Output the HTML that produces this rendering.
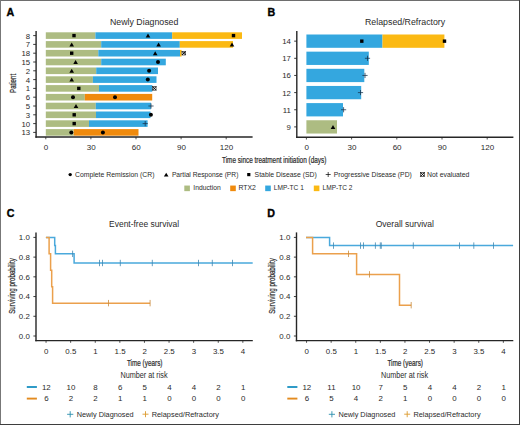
<!DOCTYPE html>
<html><head><meta charset="utf-8"><style>
html,body{margin:0;padding:0;background:#fff;width:520px;height:425px;overflow:hidden}
svg{display:block;font-family:"Liberation Sans", sans-serif}
</style></head><body>
<svg width="520" height="425" viewBox="0 0 520 425" font-family='"Liberation Sans", sans-serif'>
<rect width="520" height="425" fill="#fff"/>
<rect x="0" y="0" width="520" height="1" fill="#6e6e6e"/>
<rect x="0" y="0" width="1" height="425" fill="#777"/>
<rect x="519" y="0" width="1" height="425" fill="#3e3e3e"/>
<rect x="0" y="424" width="520" height="1" fill="#3e3e3e"/>
<text x="6.6" y="15.9" font-size="10.7" text-anchor="start" font-weight="bold" fill="#000" stroke="#000" stroke-width="0.35">A</text>
<text x="110" y="25.0" font-size="9.2" text-anchor="start" font-weight="normal" fill="#2a2a2a"  textLength="68.4" lengthAdjust="spacingAndGlyphs">Newly Diagnosed</text>
<rect x="45.80" y="32.30" width="49.60" height="6.60" fill="#adbc82"/>
<rect x="95.40" y="32.30" width="76.80" height="6.60" fill="#34a7df"/>
<rect x="172.20" y="32.30" width="69.80" height="6.60" fill="#fbb913"/>
<rect x="72.30" y="33.90" width="3.4" height="3.4" fill="#000"/>
<path d="M145.70 37.60 L148.00 33.60 L150.30 37.60Z" fill="#000"/>
<rect x="231.80" y="33.90" width="3.4" height="3.4" fill="#000"/>
<line x1="33.2" y1="35.599999999999994" x2="36" y2="35.599999999999994" stroke="#262626" stroke-width="0.9"/>
<text x="30.2" y="38.49999999999999" font-size="7.8" text-anchor="end" font-weight="normal" fill="#2a2a2a" >8</text>
<rect x="45.80" y="41.10" width="55.40" height="6.60" fill="#adbc82"/>
<rect x="101.20" y="41.10" width="78.60" height="6.60" fill="#34a7df"/>
<rect x="179.80" y="41.10" width="53.20" height="6.60" fill="#fbb913"/>
<path d="M69.40 46.40 L71.70 42.40 L74.00 46.40Z" fill="#000"/>
<path d="M156.30 46.40 L158.60 42.40 L160.90 46.40Z" fill="#000"/>
<path d="M229.70 46.40 L232.00 42.40 L234.30 46.40Z" fill="#000"/>
<line x1="33.2" y1="44.39999999999999" x2="36" y2="44.39999999999999" stroke="#262626" stroke-width="0.9"/>
<text x="30.2" y="47.29999999999999" font-size="7.8" text-anchor="end" font-weight="normal" fill="#2a2a2a" >7</text>
<rect x="45.80" y="49.90" width="52.50" height="6.60" fill="#adbc82"/>
<rect x="98.30" y="49.90" width="81.70" height="6.60" fill="#34a7df"/>
<rect x="180.00" y="49.90" width="1.60" height="6.60" fill="#fbb913"/>
<rect x="70.00" y="51.50" width="3.4" height="3.4" fill="#000"/>
<path d="M152.90 55.20 L155.20 51.20 L157.50 55.20Z" fill="#000"/>
<rect x="182.00" y="51.40" width="3.6" height="3.6" fill="none" stroke="#333" stroke-width="0.7"/>
<path d="M182.00 51.40L185.60 55.00M185.60 51.40L182.00 55.00" stroke="#111" stroke-width="1.0"/>
<line x1="33.2" y1="53.199999999999996" x2="36" y2="53.199999999999996" stroke="#262626" stroke-width="0.9"/>
<text x="30.2" y="56.099999999999994" font-size="7.8" text-anchor="end" font-weight="normal" fill="#2a2a2a" >18</text>
<rect x="45.80" y="58.70" width="55.40" height="6.60" fill="#adbc82"/>
<rect x="101.20" y="58.70" width="64.60" height="6.60" fill="#34a7df"/>
<path d="M73.30 64.00 L75.60 60.00 L77.90 64.00Z" fill="#000"/>
<circle cx="158" cy="62.0" r="2.0" fill="#000"/>
<line x1="33.2" y1="62.0" x2="36" y2="62.0" stroke="#262626" stroke-width="0.9"/>
<text x="30.2" y="64.9" font-size="7.8" text-anchor="end" font-weight="normal" fill="#2a2a2a" >15</text>
<rect x="45.80" y="67.50" width="50.40" height="6.60" fill="#adbc82"/>
<rect x="96.20" y="67.50" width="61.80" height="6.60" fill="#34a7df"/>
<path d="M69.40 72.80 L71.70 68.80 L74.00 72.80Z" fill="#000"/>
<circle cx="149.1" cy="70.8" r="2.0" fill="#000"/>
<line x1="33.2" y1="70.8" x2="36" y2="70.8" stroke="#262626" stroke-width="0.9"/>
<text x="30.2" y="73.7" font-size="7.8" text-anchor="end" font-weight="normal" fill="#2a2a2a" >2</text>
<rect x="45.80" y="76.30" width="47.10" height="6.60" fill="#adbc82"/>
<rect x="92.90" y="76.30" width="63.60" height="6.60" fill="#34a7df"/>
<path d="M69.40 81.60 L71.70 77.60 L74.00 81.60Z" fill="#000"/>
<circle cx="147.8" cy="79.6" r="2.0" fill="#000"/>
<line x1="33.2" y1="79.6" x2="36" y2="79.6" stroke="#262626" stroke-width="0.9"/>
<text x="30.2" y="82.5" font-size="7.8" text-anchor="end" font-weight="normal" fill="#2a2a2a" >4</text>
<rect x="45.80" y="85.10" width="53.20" height="6.60" fill="#adbc82"/>
<rect x="99.00" y="85.10" width="53.30" height="6.60" fill="#34a7df"/>
<rect x="77.10" y="86.70" width="3.4" height="3.4" fill="#000"/>
<rect x="152.50" y="86.60" width="3.6" height="3.6" fill="none" stroke="#333" stroke-width="0.7"/>
<path d="M152.50 86.60L156.10 90.20M156.10 86.60L152.50 90.20" stroke="#111" stroke-width="1.0"/>
<line x1="33.2" y1="88.39999999999999" x2="36" y2="88.39999999999999" stroke="#262626" stroke-width="0.9"/>
<text x="30.2" y="91.3" font-size="7.8" text-anchor="end" font-weight="normal" fill="#2a2a2a" >1</text>
<rect x="45.80" y="93.90" width="39.00" height="6.60" fill="#adbc82"/>
<rect x="84.80" y="93.90" width="67.40" height="6.60" fill="#f08a0c"/>
<circle cx="73" cy="97.2" r="2.0" fill="#000"/>
<circle cx="115" cy="97.2" r="2.0" fill="#000"/>
<line x1="33.2" y1="97.2" x2="36" y2="97.2" stroke="#262626" stroke-width="0.9"/>
<text x="30.2" y="100.10000000000001" font-size="7.8" text-anchor="end" font-weight="normal" fill="#2a2a2a" >6</text>
<rect x="45.80" y="102.70" width="50.00" height="6.60" fill="#adbc82"/>
<rect x="95.80" y="102.70" width="55.10" height="6.60" fill="#34a7df"/>
<path d="M73.70 108.00 L76.00 104.00 L78.30 108.00Z" fill="#000"/>
<path d="M148.40 106.00H153.60M151.00 103.40V108.60" stroke="#15304a" stroke-width="0.75" fill="none"/>
<line x1="33.2" y1="106.0" x2="36" y2="106.0" stroke="#262626" stroke-width="0.9"/>
<text x="30.2" y="108.9" font-size="7.8" text-anchor="end" font-weight="normal" fill="#2a2a2a" >5</text>
<rect x="45.80" y="111.50" width="50.20" height="6.60" fill="#adbc82"/>
<rect x="96.00" y="111.50" width="54.50" height="6.60" fill="#34a7df"/>
<rect x="72.50" y="113.10" width="3.4" height="3.4" fill="#000"/>
<circle cx="150.9" cy="114.8" r="2.0" fill="#000"/>
<line x1="33.2" y1="114.8" x2="36" y2="114.8" stroke="#262626" stroke-width="0.9"/>
<text x="30.2" y="117.7" font-size="7.8" text-anchor="end" font-weight="normal" fill="#2a2a2a" >3</text>
<rect x="45.80" y="120.30" width="43.20" height="6.60" fill="#adbc82"/>
<rect x="89.00" y="120.30" width="58.60" height="6.60" fill="#34a7df"/>
<rect x="72.50" y="121.90" width="3.4" height="3.4" fill="#000"/>
<path d="M142.60 123.60H147.80M145.20 121.00V126.20" stroke="#15304a" stroke-width="0.75" fill="none"/>
<line x1="33.2" y1="123.6" x2="36" y2="123.6" stroke="#262626" stroke-width="0.9"/>
<text x="30.2" y="126.5" font-size="7.8" text-anchor="end" font-weight="normal" fill="#2a2a2a" >10</text>
<rect x="45.80" y="129.10" width="27.90" height="6.60" fill="#adbc82"/>
<rect x="73.70" y="129.10" width="64.80" height="6.60" fill="#f08a0c"/>
<circle cx="71.3" cy="132.40000000000003" r="2.0" fill="#000"/>
<circle cx="102.9" cy="132.40000000000003" r="2.0" fill="#000"/>
<line x1="33.2" y1="132.40000000000003" x2="36" y2="132.40000000000003" stroke="#262626" stroke-width="0.9"/>
<text x="30.2" y="135.30000000000004" font-size="7.8" text-anchor="end" font-weight="normal" fill="#2a2a2a" >13</text>
<line x1="36.1" y1="31" x2="36.1" y2="137.7" stroke="#262626" stroke-width="1.4"/>
<line x1="35.4" y1="137" x2="252.6" y2="137" stroke="#262626" stroke-width="1.4"/>
<line x1="45.8" y1="137" x2="45.8" y2="139.3" stroke="#262626" stroke-width="0.8"/>
<text x="46.099999999999994" y="150.0" font-size="8" text-anchor="middle" font-weight="normal" fill="#2a2a2a" >0</text>
<line x1="90.9" y1="137" x2="90.9" y2="139.3" stroke="#262626" stroke-width="0.8"/>
<text x="91.2" y="150.0" font-size="8" text-anchor="middle" font-weight="normal" fill="#2a2a2a" >30</text>
<line x1="136.0" y1="137" x2="136.0" y2="139.3" stroke="#262626" stroke-width="0.8"/>
<text x="136.3" y="150.0" font-size="8" text-anchor="middle" font-weight="normal" fill="#2a2a2a" >60</text>
<line x1="181.10000000000002" y1="137" x2="181.10000000000002" y2="139.3" stroke="#262626" stroke-width="0.8"/>
<text x="181.40000000000003" y="150.0" font-size="8" text-anchor="middle" font-weight="normal" fill="#2a2a2a" >90</text>
<line x1="226.2" y1="137" x2="226.2" y2="139.3" stroke="#262626" stroke-width="0.8"/>
<text x="226.5" y="150.0" font-size="8" text-anchor="middle" font-weight="normal" fill="#2a2a2a" >120</text>
<text x="222.0" y="162.7" font-size="9" fill="#2a2a2a" stroke="#2a2a2a" stroke-width="0.22" textLength="104.3" lengthAdjust="spacingAndGlyphs">Time since treatment initiation (days)</text>
<text transform="translate(16.0,83.4) rotate(-90)" x="0" y="0" font-size="9" text-anchor="middle" fill="#2a2a2a" stroke="#2a2a2a" stroke-width="0.22" textLength="19" lengthAdjust="spacingAndGlyphs">Patient</text>
<circle cx="70.2" cy="174.6" r="1.7" fill="#000"/>
<text x="75" y="176.7" font-size="7.5" text-anchor="start" font-weight="normal" fill="#2a2a2a"  textLength="79.5" lengthAdjust="spacingAndGlyphs">Complete Remission (CR)</text>
<path d="M163.90 176.55 L166.20 172.65 L168.50 176.55Z" fill="#000"/>
<text x="171.9" y="176.7" font-size="7.5" text-anchor="start" font-weight="normal" fill="#2a2a2a"  textLength="66.5" lengthAdjust="spacingAndGlyphs">Partial Response (PR)</text>
<rect x="247.20" y="173.00" width="3.2" height="3.2" fill="#000"/>
<text x="254.6" y="176.7" font-size="7.5" text-anchor="start" font-weight="normal" fill="#2a2a2a"  textLength="62.2" lengthAdjust="spacingAndGlyphs">Stable Disease (SD)</text>
<path d="M325.70 174.50H330.70M328.20 172.00V177.00" stroke="#000" stroke-width="0.7" fill="none"/>
<text x="333.8" y="176.7" font-size="7.5" text-anchor="start" font-weight="normal" fill="#2a2a2a"  textLength="78" lengthAdjust="spacingAndGlyphs">Progressive Disease (PD)</text>
<rect x="420.50" y="172.40" width="4.0" height="4.0" fill="none" stroke="#333" stroke-width="0.7"/>
<path d="M420.50 172.40L424.50 176.40M424.50 172.40L420.50 176.40" stroke="#111" stroke-width="1.0"/>
<text x="427.1" y="176.7" font-size="7.5" text-anchor="start" font-weight="normal" fill="#2a2a2a"  textLength="42.3" lengthAdjust="spacingAndGlyphs">Not evaluated</text>
<rect x="184.30" y="185.55" width="5.60" height="5.60" fill="#adbc82"/>
<text x="193.3" y="190.3" font-size="7.5" text-anchor="start" font-weight="normal" fill="#2a2a2a"  textLength="27.4" lengthAdjust="spacingAndGlyphs">Induction</text>
<rect x="230.20" y="185.55" width="5.60" height="5.60" fill="#f08a0c"/>
<text x="238.4" y="190.3" font-size="7.5" text-anchor="start" font-weight="normal" fill="#2a2a2a"  textLength="17.4" lengthAdjust="spacingAndGlyphs">RTX2</text>
<rect x="265.20" y="185.55" width="5.60" height="5.60" fill="#34a7df"/>
<text x="273.8" y="190.3" font-size="7.5" text-anchor="start" font-weight="normal" fill="#2a2a2a"  textLength="30" lengthAdjust="spacingAndGlyphs">LMP-TC 1</text>
<rect x="313.80" y="185.55" width="5.60" height="5.60" fill="#fbb913"/>
<text x="322.5" y="190.3" font-size="7.5" text-anchor="start" font-weight="normal" fill="#2a2a2a"  textLength="30" lengthAdjust="spacingAndGlyphs">LMP-TC 2</text>
<text x="267.4" y="15.9" font-size="10.7" text-anchor="start" font-weight="bold" fill="#000" stroke="#000" stroke-width="0.35">B</text>
<text x="365" y="25.0" font-size="9.2" text-anchor="start" font-weight="normal" fill="#2a2a2a"  textLength="80.2" lengthAdjust="spacingAndGlyphs">Relapsed/Refractory</text>
<rect x="306.40" y="34.50" width="76.10" height="13.30" fill="#34a7df"/>
<rect x="382.50" y="34.50" width="61.90" height="13.30" fill="#fbb913"/>
<rect x="360.10" y="39.45" width="3.4" height="3.4" fill="#000"/>
<rect x="442.80" y="39.45" width="3.4" height="3.4" fill="#000"/>
<line x1="294.2" y1="41.15" x2="297" y2="41.15" stroke="#262626" stroke-width="0.9"/>
<text x="290.9" y="44.05" font-size="7.8" text-anchor="end" font-weight="normal" fill="#2a2a2a" >14</text>
<rect x="306.40" y="51.65" width="62.40" height="13.30" fill="#34a7df"/>
<path d="M364.90 58.30H370.10M367.50 55.70V60.90" stroke="#15304a" stroke-width="0.75" fill="none"/>
<line x1="294.2" y1="58.3" x2="297" y2="58.3" stroke="#262626" stroke-width="0.9"/>
<text x="290.9" y="61.199999999999996" font-size="7.8" text-anchor="end" font-weight="normal" fill="#2a2a2a" >17</text>
<rect x="306.40" y="68.80" width="57.90" height="13.30" fill="#34a7df"/>
<path d="M362.40 75.45H367.60M365.00 72.85V78.05" stroke="#15304a" stroke-width="0.75" fill="none"/>
<line x1="294.2" y1="75.45" x2="297" y2="75.45" stroke="#262626" stroke-width="0.9"/>
<text x="290.9" y="78.35000000000001" font-size="7.8" text-anchor="end" font-weight="normal" fill="#2a2a2a" >16</text>
<rect x="306.40" y="85.95" width="54.80" height="13.30" fill="#34a7df"/>
<path d="M357.90 92.60H363.10M360.50 90.00V95.20" stroke="#15304a" stroke-width="0.75" fill="none"/>
<line x1="294.2" y1="92.6" x2="297" y2="92.6" stroke="#262626" stroke-width="0.9"/>
<text x="290.9" y="95.5" font-size="7.8" text-anchor="end" font-weight="normal" fill="#2a2a2a" >12</text>
<rect x="306.40" y="103.10" width="36.60" height="13.30" fill="#34a7df"/>
<path d="M341.00 109.75H346.20M343.60 107.15V112.35" stroke="#15304a" stroke-width="0.75" fill="none"/>
<line x1="294.2" y1="109.75" x2="297" y2="109.75" stroke="#262626" stroke-width="0.9"/>
<text x="290.9" y="112.65" font-size="7.8" text-anchor="end" font-weight="normal" fill="#2a2a2a" >11</text>
<rect x="306.40" y="120.25" width="30.60" height="13.30" fill="#adbc82"/>
<path d="M330.70 128.90 L333.00 124.90 L335.30 128.90Z" fill="#000"/>
<line x1="294.2" y1="126.9" x2="297" y2="126.9" stroke="#262626" stroke-width="0.9"/>
<text x="290.9" y="129.8" font-size="7.8" text-anchor="end" font-weight="normal" fill="#2a2a2a" >9</text>
<line x1="296.8" y1="31" x2="296.8" y2="137.9" stroke="#262626" stroke-width="1.4"/>
<line x1="296.1" y1="137.2" x2="513.4" y2="137.2" stroke="#262626" stroke-width="1.4"/>
<line x1="306.4" y1="137.2" x2="306.4" y2="139.5" stroke="#262626" stroke-width="0.8"/>
<text x="306.7" y="150.0" font-size="8" text-anchor="middle" font-weight="normal" fill="#2a2a2a" >0</text>
<line x1="351.59999999999997" y1="137.2" x2="351.59999999999997" y2="139.5" stroke="#262626" stroke-width="0.8"/>
<text x="351.9" y="150.0" font-size="8" text-anchor="middle" font-weight="normal" fill="#2a2a2a" >30</text>
<line x1="396.79999999999995" y1="137.2" x2="396.79999999999995" y2="139.5" stroke="#262626" stroke-width="0.8"/>
<text x="397.09999999999997" y="150.0" font-size="8" text-anchor="middle" font-weight="normal" fill="#2a2a2a" >60</text>
<line x1="442.0" y1="137.2" x2="442.0" y2="139.5" stroke="#262626" stroke-width="0.8"/>
<text x="442.3" y="150.0" font-size="8" text-anchor="middle" font-weight="normal" fill="#2a2a2a" >90</text>
<line x1="487.2" y1="137.2" x2="487.2" y2="139.5" stroke="#262626" stroke-width="0.8"/>
<text x="487.5" y="150.0" font-size="8" text-anchor="middle" font-weight="normal" fill="#2a2a2a" >120</text>
<text x="6.800000000000001" y="216.5" font-size="10.7" text-anchor="start" font-weight="bold" fill="#000" stroke="#000" stroke-width="0.35">C</text>
<text x="109.1" y="226.6" font-size="9.2" text-anchor="start" font-weight="normal" fill="#2a2a2a"  textLength="70" lengthAdjust="spacingAndGlyphs">Event-free survival</text>
<line x1="36" y1="232.4" x2="36" y2="341.3" stroke="#262626" stroke-width="1.4"/>
<line x1="35.3" y1="340.6" x2="252.8" y2="340.6" stroke="#262626" stroke-width="1.4"/>
<line x1="33.4" y1="336.0" x2="36" y2="336.0" stroke="#262626" stroke-width="0.9"/>
<text x="29.8" y="338.9" font-size="7.9" text-anchor="end" font-weight="normal" fill="#2a2a2a" >0.0</text>
<line x1="33.4" y1="316.28" x2="36" y2="316.28" stroke="#262626" stroke-width="0.9"/>
<text x="29.8" y="319.17999999999995" font-size="7.9" text-anchor="end" font-weight="normal" fill="#2a2a2a" >0.2</text>
<line x1="33.4" y1="296.56" x2="36" y2="296.56" stroke="#262626" stroke-width="0.9"/>
<text x="29.8" y="299.46" font-size="7.9" text-anchor="end" font-weight="normal" fill="#2a2a2a" >0.4</text>
<line x1="33.4" y1="276.84000000000003" x2="36" y2="276.84000000000003" stroke="#262626" stroke-width="0.9"/>
<text x="29.8" y="279.74" font-size="7.9" text-anchor="end" font-weight="normal" fill="#2a2a2a" >0.6</text>
<line x1="33.4" y1="257.12" x2="36" y2="257.12" stroke="#262626" stroke-width="0.9"/>
<text x="29.8" y="260.02" font-size="7.9" text-anchor="end" font-weight="normal" fill="#2a2a2a" >0.8</text>
<line x1="33.4" y1="237.4" x2="36" y2="237.4" stroke="#262626" stroke-width="0.9"/>
<text x="29.8" y="240.3" font-size="7.9" text-anchor="end" font-weight="normal" fill="#2a2a2a" >1.0</text>
<line x1="46.05" y1="340.6" x2="46.05" y2="342.8" stroke="#262626" stroke-width="0.8"/>
<text x="46.25" y="353.7" font-size="7.9" text-anchor="middle" font-weight="normal" fill="#2a2a2a" >0</text>
<line x1="70.65" y1="340.6" x2="70.65" y2="342.8" stroke="#262626" stroke-width="0.8"/>
<text x="70.85000000000001" y="353.7" font-size="7.9" text-anchor="middle" font-weight="normal" fill="#2a2a2a" >0.5</text>
<line x1="95.25" y1="340.6" x2="95.25" y2="342.8" stroke="#262626" stroke-width="0.8"/>
<text x="95.45" y="353.7" font-size="7.9" text-anchor="middle" font-weight="normal" fill="#2a2a2a" >1</text>
<line x1="119.85000000000001" y1="340.6" x2="119.85000000000001" y2="342.8" stroke="#262626" stroke-width="0.8"/>
<text x="120.05000000000001" y="353.7" font-size="7.9" text-anchor="middle" font-weight="normal" fill="#2a2a2a" >1.5</text>
<line x1="144.45" y1="340.6" x2="144.45" y2="342.8" stroke="#262626" stroke-width="0.8"/>
<text x="144.64999999999998" y="353.7" font-size="7.9" text-anchor="middle" font-weight="normal" fill="#2a2a2a" >2</text>
<line x1="169.05" y1="340.6" x2="169.05" y2="342.8" stroke="#262626" stroke-width="0.8"/>
<text x="169.25" y="353.7" font-size="7.9" text-anchor="middle" font-weight="normal" fill="#2a2a2a" >2.5</text>
<line x1="193.65000000000003" y1="340.6" x2="193.65000000000003" y2="342.8" stroke="#262626" stroke-width="0.8"/>
<text x="193.85000000000002" y="353.7" font-size="7.9" text-anchor="middle" font-weight="normal" fill="#2a2a2a" >3</text>
<line x1="218.25" y1="340.6" x2="218.25" y2="342.8" stroke="#262626" stroke-width="0.8"/>
<text x="218.45" y="353.7" font-size="7.9" text-anchor="middle" font-weight="normal" fill="#2a2a2a" >3.5</text>
<line x1="242.85000000000002" y1="340.6" x2="242.85000000000002" y2="342.8" stroke="#262626" stroke-width="0.8"/>
<text x="243.05" y="353.7" font-size="7.9" text-anchor="middle" font-weight="normal" fill="#2a2a2a" >4</text>
<text x="144.7" y="366.0" font-size="9" text-anchor="middle" fill="#2a2a2a" stroke="#2a2a2a" stroke-width="0.22" textLength="35.6" lengthAdjust="spacingAndGlyphs">Time (years)</text>
<text transform="translate(14.600000000000001,286.0) rotate(-90)" x="0" y="0" font-size="9" text-anchor="middle" fill="#2a2a2a" stroke="#2a2a2a" stroke-width="0.22" textLength="55.6" lengthAdjust="spacingAndGlyphs">Surviving probability</text>
<text x="120.4" y="377.7" font-size="8.2" text-anchor="start" font-weight="normal" fill="#2a2a2a"  textLength="47.2" lengthAdjust="spacingAndGlyphs">Number at risk</text>
<path d="M45.9 237.40H54.7V245.62H55.4V253.83H74.1V263.0H252.7" fill="none" stroke="#4aa9dc" stroke-width="1.5"/>
<path d="M45.9 237.40H49.1V253.83H50.6V270.27H51.7V286.70H52.6V303.13H150.1" fill="none" stroke="#eba04c" stroke-width="1.5"/>
<line x1="108.5" y1="299.93333333333334" x2="108.5" y2="306.3333333333333" stroke="#c88a3c" stroke-width="0.8"/>
<line x1="150.1" y1="299.93333333333334" x2="150.1" y2="306.3333333333333" stroke="#c88a3c" stroke-width="0.8"/>
<line x1="72.6" y1="250.63333333333333" x2="72.6" y2="257.0333333333333" stroke="#3f86b0" stroke-width="0.8"/>
<line x1="99.5" y1="259.8" x2="99.5" y2="266.2" stroke="#3f86b0" stroke-width="0.8"/>
<line x1="102.5" y1="259.8" x2="102.5" y2="266.2" stroke="#3f86b0" stroke-width="0.8"/>
<line x1="120.3" y1="259.8" x2="120.3" y2="266.2" stroke="#3f86b0" stroke-width="0.8"/>
<line x1="152.3" y1="259.8" x2="152.3" y2="266.2" stroke="#3f86b0" stroke-width="0.8"/>
<line x1="198.5" y1="259.8" x2="198.5" y2="266.2" stroke="#3f86b0" stroke-width="0.8"/>
<line x1="212.3" y1="259.8" x2="212.3" y2="266.2" stroke="#3f86b0" stroke-width="0.8"/>
<line x1="232.5" y1="259.8" x2="232.5" y2="266.2" stroke="#3f86b0" stroke-width="0.8"/>
<line x1="26.8" y1="387.0" x2="36.9" y2="387.0" stroke="#2496c4" stroke-width="1.9"/>
<line x1="26.8" y1="398.6" x2="36.9" y2="398.6" stroke="#e38b1f" stroke-width="1.9"/>
<text x="46.349999999999994" y="389.7" font-size="7.9" text-anchor="middle" font-weight="normal" fill="#2a2a2a" >12</text>
<text x="46.349999999999994" y="401.0" font-size="7.9" text-anchor="middle" font-weight="normal" fill="#2a2a2a" >6</text>
<text x="70.95" y="389.7" font-size="7.9" text-anchor="middle" font-weight="normal" fill="#2a2a2a" >10</text>
<text x="70.95" y="401.0" font-size="7.9" text-anchor="middle" font-weight="normal" fill="#2a2a2a" >2</text>
<text x="95.55" y="389.7" font-size="7.9" text-anchor="middle" font-weight="normal" fill="#2a2a2a" >8</text>
<text x="95.55" y="401.0" font-size="7.9" text-anchor="middle" font-weight="normal" fill="#2a2a2a" >2</text>
<text x="120.15" y="389.7" font-size="7.9" text-anchor="middle" font-weight="normal" fill="#2a2a2a" >6</text>
<text x="120.15" y="401.0" font-size="7.9" text-anchor="middle" font-weight="normal" fill="#2a2a2a" >1</text>
<text x="144.75" y="389.7" font-size="7.9" text-anchor="middle" font-weight="normal" fill="#2a2a2a" >5</text>
<text x="144.75" y="401.0" font-size="7.9" text-anchor="middle" font-weight="normal" fill="#2a2a2a" >1</text>
<text x="169.35000000000002" y="389.7" font-size="7.9" text-anchor="middle" font-weight="normal" fill="#2a2a2a" >4</text>
<text x="169.35000000000002" y="401.0" font-size="7.9" text-anchor="middle" font-weight="normal" fill="#2a2a2a" >0</text>
<text x="193.95000000000005" y="389.7" font-size="7.9" text-anchor="middle" font-weight="normal" fill="#2a2a2a" >4</text>
<text x="193.95000000000005" y="401.0" font-size="7.9" text-anchor="middle" font-weight="normal" fill="#2a2a2a" >0</text>
<text x="218.55" y="389.7" font-size="7.9" text-anchor="middle" font-weight="normal" fill="#2a2a2a" >2</text>
<text x="218.55" y="401.0" font-size="7.9" text-anchor="middle" font-weight="normal" fill="#2a2a2a" >0</text>
<text x="243.15000000000003" y="389.7" font-size="7.9" text-anchor="middle" font-weight="normal" fill="#2a2a2a" >1</text>
<text x="243.15000000000003" y="401.0" font-size="7.9" text-anchor="middle" font-weight="normal" fill="#2a2a2a" >0</text>
<path d="M67.10 414.30H73.30M70.20 411.20V417.40" stroke="#2b8fae" stroke-width="0.9" fill="none"/>
<text x="76.7" y="416.5" font-size="7.7" text-anchor="start" font-weight="normal" fill="#2a2a2a"  textLength="57" lengthAdjust="spacingAndGlyphs">Newly Diagnosed</text>
<path d="M142.50 414.20H148.50M145.50 411.20V417.20" stroke="#dc9a2c" stroke-width="0.9" fill="none"/>
<text x="151.7" y="416.5" font-size="7.7" text-anchor="start" font-weight="normal" fill="#2a2a2a"  textLength="67.2" lengthAdjust="spacingAndGlyphs">Relapsed/Refractory</text>
<text x="267.3" y="216.5" font-size="10.7" text-anchor="start" font-weight="bold" fill="#000" stroke="#000" stroke-width="0.35">D</text>
<text x="375.7" y="226.6" font-size="9.2" text-anchor="start" font-weight="normal" fill="#2a2a2a"  textLength="58.3" lengthAdjust="spacingAndGlyphs">Overall survival</text>
<line x1="296.5" y1="232.4" x2="296.5" y2="341.3" stroke="#262626" stroke-width="1.4"/>
<line x1="295.8" y1="340.6" x2="513.3" y2="340.6" stroke="#262626" stroke-width="1.4"/>
<line x1="293.9" y1="336.0" x2="296.5" y2="336.0" stroke="#262626" stroke-width="0.9"/>
<text x="290.3" y="338.9" font-size="7.9" text-anchor="end" font-weight="normal" fill="#2a2a2a" >0.0</text>
<line x1="293.9" y1="316.28" x2="296.5" y2="316.28" stroke="#262626" stroke-width="0.9"/>
<text x="290.3" y="319.17999999999995" font-size="7.9" text-anchor="end" font-weight="normal" fill="#2a2a2a" >0.2</text>
<line x1="293.9" y1="296.56" x2="296.5" y2="296.56" stroke="#262626" stroke-width="0.9"/>
<text x="290.3" y="299.46" font-size="7.9" text-anchor="end" font-weight="normal" fill="#2a2a2a" >0.4</text>
<line x1="293.9" y1="276.84000000000003" x2="296.5" y2="276.84000000000003" stroke="#262626" stroke-width="0.9"/>
<text x="290.3" y="279.74" font-size="7.9" text-anchor="end" font-weight="normal" fill="#2a2a2a" >0.6</text>
<line x1="293.9" y1="257.12" x2="296.5" y2="257.12" stroke="#262626" stroke-width="0.9"/>
<text x="290.3" y="260.02" font-size="7.9" text-anchor="end" font-weight="normal" fill="#2a2a2a" >0.8</text>
<line x1="293.9" y1="237.4" x2="296.5" y2="237.4" stroke="#262626" stroke-width="0.9"/>
<text x="290.3" y="240.3" font-size="7.9" text-anchor="end" font-weight="normal" fill="#2a2a2a" >1.0</text>
<line x1="306.55" y1="340.6" x2="306.55" y2="342.8" stroke="#262626" stroke-width="0.8"/>
<text x="306.75" y="353.7" font-size="7.9" text-anchor="middle" font-weight="normal" fill="#2a2a2a" >0</text>
<line x1="331.15000000000003" y1="340.6" x2="331.15000000000003" y2="342.8" stroke="#262626" stroke-width="0.8"/>
<text x="331.35" y="353.7" font-size="7.9" text-anchor="middle" font-weight="normal" fill="#2a2a2a" >0.5</text>
<line x1="355.75" y1="340.6" x2="355.75" y2="342.8" stroke="#262626" stroke-width="0.8"/>
<text x="355.95" y="353.7" font-size="7.9" text-anchor="middle" font-weight="normal" fill="#2a2a2a" >1</text>
<line x1="380.35" y1="340.6" x2="380.35" y2="342.8" stroke="#262626" stroke-width="0.8"/>
<text x="380.55" y="353.7" font-size="7.9" text-anchor="middle" font-weight="normal" fill="#2a2a2a" >1.5</text>
<line x1="404.95000000000005" y1="340.6" x2="404.95000000000005" y2="342.8" stroke="#262626" stroke-width="0.8"/>
<text x="405.15000000000003" y="353.7" font-size="7.9" text-anchor="middle" font-weight="normal" fill="#2a2a2a" >2</text>
<line x1="429.55" y1="340.6" x2="429.55" y2="342.8" stroke="#262626" stroke-width="0.8"/>
<text x="429.75" y="353.7" font-size="7.9" text-anchor="middle" font-weight="normal" fill="#2a2a2a" >2.5</text>
<line x1="454.15000000000003" y1="340.6" x2="454.15000000000003" y2="342.8" stroke="#262626" stroke-width="0.8"/>
<text x="454.35" y="353.7" font-size="7.9" text-anchor="middle" font-weight="normal" fill="#2a2a2a" >3</text>
<line x1="478.75" y1="340.6" x2="478.75" y2="342.8" stroke="#262626" stroke-width="0.8"/>
<text x="478.95" y="353.7" font-size="7.9" text-anchor="middle" font-weight="normal" fill="#2a2a2a" >3.5</text>
<line x1="503.35" y1="340.6" x2="503.35" y2="342.8" stroke="#262626" stroke-width="0.8"/>
<text x="503.55" y="353.7" font-size="7.9" text-anchor="middle" font-weight="normal" fill="#2a2a2a" >4</text>
<text x="405.2" y="366.0" font-size="9" text-anchor="middle" fill="#2a2a2a" stroke="#2a2a2a" stroke-width="0.22" textLength="35.6" lengthAdjust="spacingAndGlyphs">Time (years)</text>
<text transform="translate(275.1,286.0) rotate(-90)" x="0" y="0" font-size="9" text-anchor="middle" fill="#2a2a2a" stroke="#2a2a2a" stroke-width="0.22" textLength="55.6" lengthAdjust="spacingAndGlyphs">Surviving probability</text>
<text x="380.9" y="377.7" font-size="8.2" text-anchor="start" font-weight="normal" fill="#2a2a2a"  textLength="47.2" lengthAdjust="spacingAndGlyphs">Number at risk</text>
<path d="M306 237.40H329.6V245.62H513.1" fill="none" stroke="#4aa9dc" stroke-width="1.5"/>
<path d="M306 237.40H312.6V253.83H356.6V274.38H399.5V305.19H411.2" fill="none" stroke="#eba04c" stroke-width="1.5"/>
<line x1="348.5" y1="250.63333333333333" x2="348.5" y2="257.0333333333333" stroke="#c88a3c" stroke-width="0.8"/>
<line x1="369.5" y1="271.175" x2="369.5" y2="277.575" stroke="#c88a3c" stroke-width="0.8"/>
<line x1="411.2" y1="301.9875" x2="411.2" y2="308.3875" stroke="#c88a3c" stroke-width="0.8"/>
<line x1="333.5" y1="242.41666666666669" x2="333.5" y2="248.81666666666666" stroke="#3f86b0" stroke-width="0.8"/>
<line x1="360.5" y1="242.41666666666669" x2="360.5" y2="248.81666666666666" stroke="#3f86b0" stroke-width="0.8"/>
<line x1="363.5" y1="242.41666666666669" x2="363.5" y2="248.81666666666666" stroke="#3f86b0" stroke-width="0.8"/>
<line x1="375.4" y1="242.41666666666669" x2="375.4" y2="248.81666666666666" stroke="#3f86b0" stroke-width="0.8"/>
<line x1="380.3" y1="242.41666666666669" x2="380.3" y2="248.81666666666666" stroke="#3f86b0" stroke-width="0.8"/>
<line x1="381.3" y1="242.41666666666669" x2="381.3" y2="248.81666666666666" stroke="#3f86b0" stroke-width="0.8"/>
<line x1="413.3" y1="242.41666666666669" x2="413.3" y2="248.81666666666666" stroke="#3f86b0" stroke-width="0.8"/>
<line x1="459.5" y1="242.41666666666669" x2="459.5" y2="248.81666666666666" stroke="#3f86b0" stroke-width="0.8"/>
<line x1="473.8" y1="242.41666666666669" x2="473.8" y2="248.81666666666666" stroke="#3f86b0" stroke-width="0.8"/>
<line x1="493.5" y1="242.41666666666669" x2="493.5" y2="248.81666666666666" stroke="#3f86b0" stroke-width="0.8"/>
<line x1="287.3" y1="387.0" x2="297.4" y2="387.0" stroke="#2496c4" stroke-width="1.9"/>
<line x1="287.3" y1="398.6" x2="297.4" y2="398.6" stroke="#e38b1f" stroke-width="1.9"/>
<text x="306.85" y="389.7" font-size="7.9" text-anchor="middle" font-weight="normal" fill="#2a2a2a" >12</text>
<text x="306.85" y="401.0" font-size="7.9" text-anchor="middle" font-weight="normal" fill="#2a2a2a" >6</text>
<text x="331.45000000000005" y="389.7" font-size="7.9" text-anchor="middle" font-weight="normal" fill="#2a2a2a" >11</text>
<text x="331.45000000000005" y="401.0" font-size="7.9" text-anchor="middle" font-weight="normal" fill="#2a2a2a" >5</text>
<text x="356.05" y="389.7" font-size="7.9" text-anchor="middle" font-weight="normal" fill="#2a2a2a" >10</text>
<text x="356.05" y="401.0" font-size="7.9" text-anchor="middle" font-weight="normal" fill="#2a2a2a" >4</text>
<text x="380.65000000000003" y="389.7" font-size="7.9" text-anchor="middle" font-weight="normal" fill="#2a2a2a" >7</text>
<text x="380.65000000000003" y="401.0" font-size="7.9" text-anchor="middle" font-weight="normal" fill="#2a2a2a" >2</text>
<text x="405.25000000000006" y="389.7" font-size="7.9" text-anchor="middle" font-weight="normal" fill="#2a2a2a" >5</text>
<text x="405.25000000000006" y="401.0" font-size="7.9" text-anchor="middle" font-weight="normal" fill="#2a2a2a" >1</text>
<text x="429.85" y="389.7" font-size="7.9" text-anchor="middle" font-weight="normal" fill="#2a2a2a" >4</text>
<text x="429.85" y="401.0" font-size="7.9" text-anchor="middle" font-weight="normal" fill="#2a2a2a" >0</text>
<text x="454.45000000000005" y="389.7" font-size="7.9" text-anchor="middle" font-weight="normal" fill="#2a2a2a" >4</text>
<text x="454.45000000000005" y="401.0" font-size="7.9" text-anchor="middle" font-weight="normal" fill="#2a2a2a" >0</text>
<text x="479.05" y="389.7" font-size="7.9" text-anchor="middle" font-weight="normal" fill="#2a2a2a" >2</text>
<text x="479.05" y="401.0" font-size="7.9" text-anchor="middle" font-weight="normal" fill="#2a2a2a" >0</text>
<text x="503.65000000000003" y="389.7" font-size="7.9" text-anchor="middle" font-weight="normal" fill="#2a2a2a" >1</text>
<text x="503.65000000000003" y="401.0" font-size="7.9" text-anchor="middle" font-weight="normal" fill="#2a2a2a" >0</text>
<path d="M328.80 414.30H335.00M331.90 411.20V417.40" stroke="#2b8fae" stroke-width="0.9" fill="none"/>
<text x="338.40000000000003" y="416.5" font-size="7.7" text-anchor="start" font-weight="normal" fill="#2a2a2a"  textLength="57" lengthAdjust="spacingAndGlyphs">Newly Diagnosed</text>
<path d="M404.20 414.20H410.20M407.20 411.20V417.20" stroke="#dc9a2c" stroke-width="0.9" fill="none"/>
<text x="413.40000000000003" y="416.5" font-size="7.7" text-anchor="start" font-weight="normal" fill="#2a2a2a"  textLength="67.2" lengthAdjust="spacingAndGlyphs">Relapsed/Refractory</text>
</svg>
</body></html>
